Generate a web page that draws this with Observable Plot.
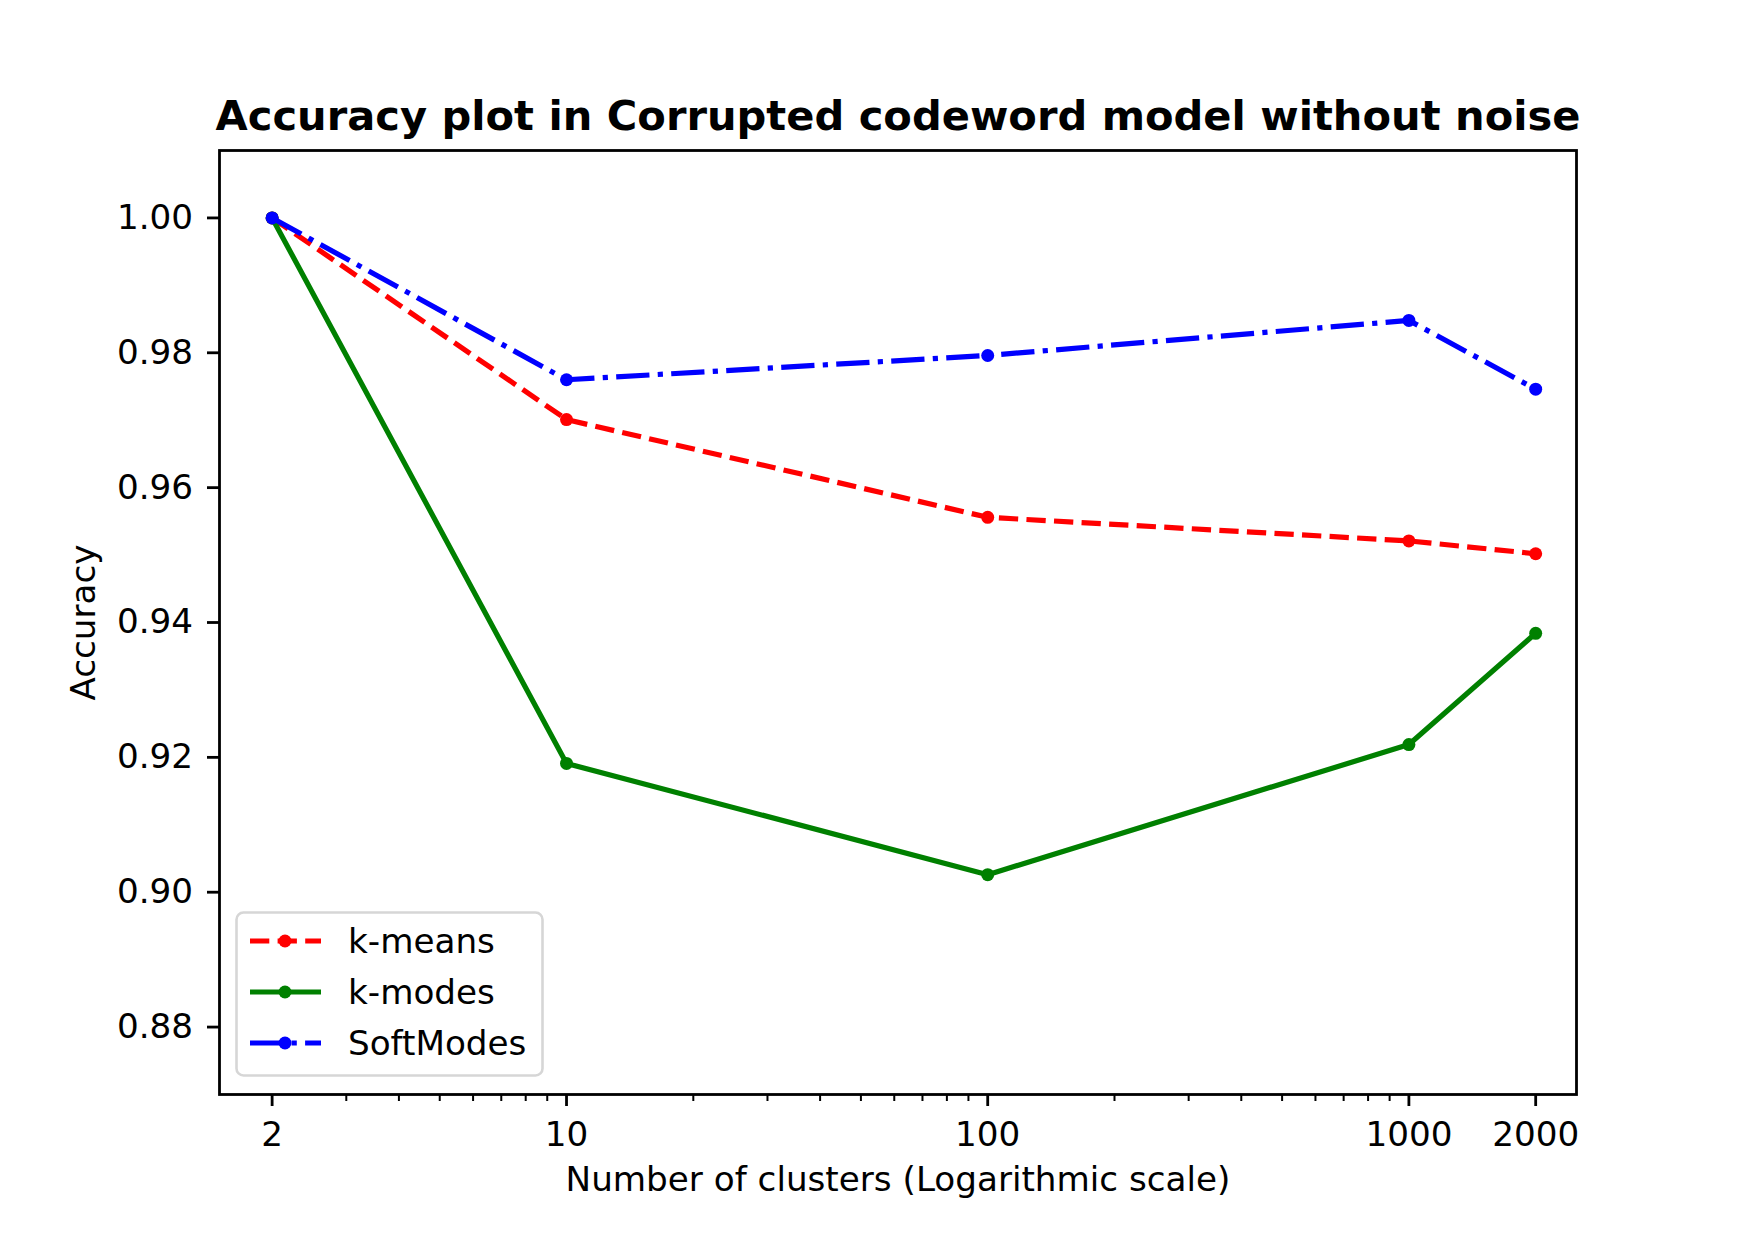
<!DOCTYPE html>
<html>
<head>
<meta charset="utf-8">
<script src="https://cdn.jsdelivr.net/npm/d3@7"></script>
<script src="https://cdn.jsdelivr.net/npm/@observablehq/plot@0.6"></script>
<style>
  html, body { margin: 0; padding: 0; background: white; }
  #wrap { position: relative; width: 1750px; height: 1250px; font-family: "DejaVu Sans", sans-serif; }
  #legend { position: absolute; }
</style>
</head>
<body>
<div id="wrap"></div>
<script>
// ---- data ----
const clusters = [2, 10, 100, 1000, 2000];
const kmeans    = [1.0, 0.9701, 0.9556, 0.9521, 0.9502];
const kmodes    = [1.0, 0.9191, 0.9026, 0.9219, 0.9384];
const softmodes = [1.0, 0.9760, 0.9796, 0.9848, 0.9746];
const seriesNames  = ["k-means", "k-modes", "SoftModes"];
const seriesColors = ["#ff0000", "#008000", "#0000ff"];
const seriesDashes = ["19.3,8.3", null, "33.3,8.3,5.2,8.3"];
const xTicks = [2, 10, 100, 1000, 2000];
const xMinorTicks = [3, 4, 5, 6, 7, 8, 9, 20, 30, 40, 50, 60, 70, 80, 90, 200, 300, 400, 500, 600, 700, 800, 900];
const yTicks = [0.88, 0.90, 0.92, 0.94, 0.96, 0.98, 1.00];
const titleText = "Accuracy plot in Corrupted codeword model without noise";
const xLabel = "Number of clusters (Logarithmic scale)";
const yLabel = "Accuracy";

const allValues = [kmeans, kmodes, softmodes];
const series = seriesNames.map((name, i) => ({
  name, color: seriesColors[i], dash: seriesDashes[i],
  rows: clusters.map((k, j) => ({k, acc: allValues[i][j]}))
}));

const fs = 34.2;
const lw = 5.2;
const marks = [];
for (const s of series) {
  marks.push(Plot.line(s.rows, {x: "k", y: "acc", stroke: s.color, strokeWidth: lw,
    strokeDasharray: s.dash || undefined, strokeLinecap: "butt", strokeLinejoin: "round"}));
  marks.push(Plot.dot(s.rows, {x: "k", y: "acc", r: 6.5, fill: s.color, stroke: "none"}));
}

const chart = Plot.plot({
  width: 1750, height: 1250,
  marginLeft: 219, marginRight: 174, marginTop: 150, marginBottom: 156,
  style: {fontFamily: "DejaVu Sans", fontSize: fs + "px", color: "black", background: "white"},
  x: {type: "log", domain: [1.5, 2500]},
  y: {domain: [0.87, 1.01]},
  marks: [
    ...marks,
    Plot.axisX(xMinorTicks, {tickSize: 7, strokeWidth: 2, tickFormat: () => "", label: null}),
    Plot.axisX(xTicks, {tickSize: 12, tickPadding: 15, strokeWidth: 2.8, tickFormat: d => String(d), fontSize: fs, label: null}),
    Plot.axisY(yTicks, {tickSize: 12, tickPadding: 14.5, strokeWidth: 2.8, tickFormat: d3.format(".2f"), fontSize: fs, label: null}),
    Plot.frame({stroke: "black", strokeWidth: 2.8}),
    Plot.text([titleText], {text: d => d, frameAnchor: "top", textAnchor: "middle", dy: -34, lineAnchor: "middle", fontSize: 41.6, fontWeight: "bold"}),
    Plot.text([xLabel], {text: d => d, frameAnchor: "bottom", textAnchor: "middle", dy: 86, lineAnchor: "middle", fontSize: fs}),
    Plot.text([yLabel], {text: d => d, frameAnchor: "left", textAnchor: "middle", dx: -135, rotate: -90, lineAnchor: "middle", fontSize: fs})
  ]
});
document.getElementById("wrap").appendChild(chart);

// ---- legend (inside the axes, lower left) ----
const lg = d3.select("#wrap").append("svg")
  .attr("id", "legend")
  .style("left", "234px").style("top", "910px")
  .attr("width", 312).attr("height", 170);
lg.append("rect").attr("x", 2.5).attr("y", 2.5).attr("width", 306).attr("height", 163)
  .attr("rx", 7).attr("fill", "white").attr("fill-opacity", 0.8)
  .attr("stroke", "#d6d6d6").attr("stroke-width", 2.6);
series.forEach((s, i) => {
  const cy = 31 + i * 51;
  const g = lg.append("g");
  g.append("line").attr("x1", 16).attr("x2", 87).attr("y1", cy).attr("y2", cy)
    .attr("stroke", s.color).attr("stroke-width", lw)
    .attr("stroke-dasharray", s.dash).attr("stroke-linecap", "butt");
  g.append("circle").attr("cx", 51).attr("cy", cy).attr("r", 6.5).attr("fill", s.color);
  g.append("text").attr("x", 114).attr("y", cy).attr("dy", "0.35em")
    .attr("font-family", "DejaVu Sans").attr("font-size", fs).attr("fill", "black").text(s.name);
});
</script>
</body>
</html>
